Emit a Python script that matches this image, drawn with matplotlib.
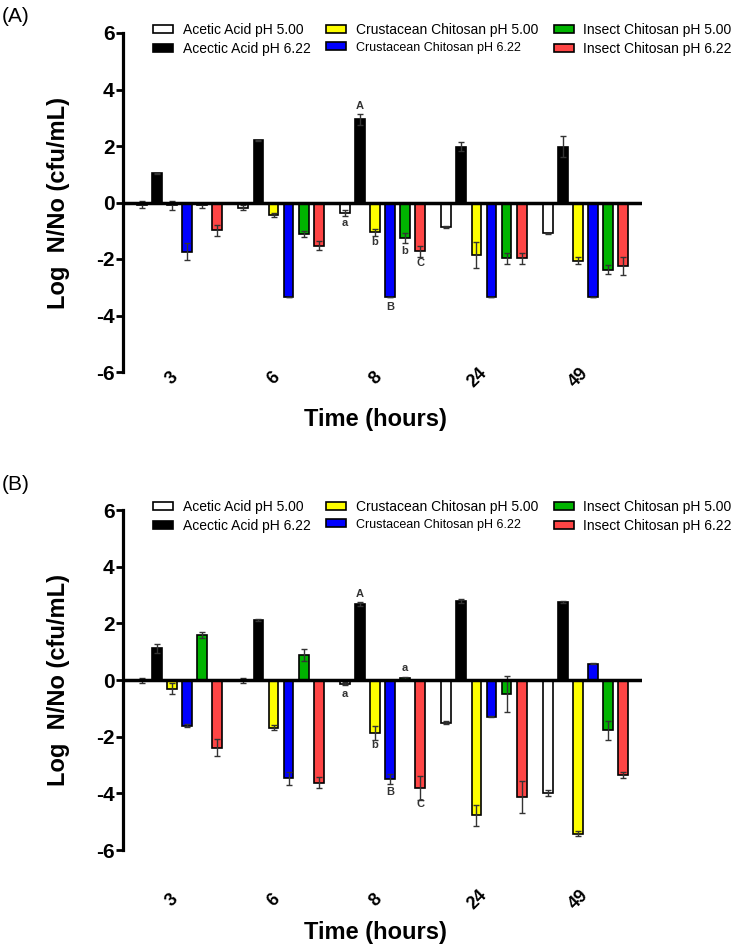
import matplotlib
matplotlib.use("Agg")
import matplotlib.pyplot as plt
import numpy as np

plt.rcParams['font.family'] = ['Liberation Sans', 'DejaVu Sans']
plt.rcParams['axes.unicode_minus'] = False

hours = ["3", "6", "8", "24", "49"]
series_names = ["Acetic Acid pH 5.00", "Acectic Acid pH 6.22",
                "Crustacean Chitosan pH 5.00", "Crustacean Chitosan pH 6.22",
                "Insect Chitosan pH 5.00", "Insect Chitosan pH 6.22"]
colors = ["white", "black", "#FFFF00", "#0000FF", "#00B400", "#FF4545"]

# panel A values (log N/No) and error bars
aa5_a = [-0.08, -0.18, -0.37, -0.88, -1.09]
aa5_a_err = [0.12, 0.10, 0.10, 0.04, 0.02]
aa6_a = [1.03, 2.20, 2.95, 1.98, 1.98]
aa6_a_err = [0.03, 0.02, 0.20, 0.16, 0.37]
cc5_a = [-0.10, -0.45, -1.06, -1.85, -2.06]
cc5_a_err = [0.15, 0.08, 0.12, 0.46, 0.12]
cc6_a = [-1.75, -3.33, -3.33, -3.33, -3.33]
cc6_a_err = [0.30, 0.0, 0.0, 0.0, 0.0]
ic5_a = [-0.10, -1.12, -1.26, -1.98, -2.38]
ic5_a_err = [0.08, 0.10, 0.18, 0.21, 0.15]
ic6_a = [-0.98, -1.53, -1.73, -1.98, -2.24]
ic6_a_err = [0.19, 0.15, 0.20, 0.18, 0.32]

# panel B values
aa5_b = [-0.02, -0.02, -0.13, -1.50, -3.98]
aa5_b_err = [0.10, 0.08, 0.06, 0.05, 0.10]
aa6_b = [1.12, 2.12, 2.69, 2.79, 2.76]
aa6_b_err = [0.16, 0.03, 0.07, 0.06, 0.03]
cc5_b = [-0.31, -1.68, -1.86, -4.78, -5.42]
cc5_b_err = [0.20, 0.10, 0.24, 0.38, 0.08]
cc6_b = [-1.62, -3.47, -3.50, -1.29, 0.58]
cc6_b_err = [0.05, 0.22, 0.17, 0.03, 0.03]
ic5_b = [1.58, 0.88, 0.08, -0.50, -1.78]
ic5_b_err = [0.10, 0.22, 0.03, 0.63, 0.33]
ic6_b = [-2.39, -3.62, -3.80, -4.13, -3.36]
ic6_b_err = [0.30, 0.18, 0.42, 0.55, 0.11]

# significance letters at 8 h: (series index, letter, y)
letters_a = [(0, "a", -0.74), (1, "A", 3.40), (2, "b", -1.40),
             (3, "B", -3.70), (4, "b", -1.72), (5, "C", -2.14)]
letters_b = [(0, "a", -0.50), (1, "A", 3.02), (2, "b", -2.30),
             (3, "B", -3.95), (4, "a", 0.41), (5, "C", -4.39)]

panel_a = [(aa5_a, aa5_a_err), (aa6_a, aa6_a_err), (cc5_a, cc5_a_err),
           (cc6_a, cc6_a_err), (ic5_a, ic5_a_err), (ic6_a, ic6_a_err)]
panel_b = [(aa5_b, aa5_b_err), (aa6_b, aa6_b_err), (cc5_b, cc5_b_err),
           (cc6_b, cc6_b_err), (ic5_b, ic5_b_err), (ic6_b, ic6_b_err)]

step = 0.148
width = 0.098

fig = plt.figure(figsize=(7.37, 9.48), dpi=100)
W, H = 737.0, 948.0


def draw_panel(ax, data, letters, tick_y):
    x = np.arange(len(hours))
    for i, (vals, errs) in enumerate(data):
        pos = x + (i - 2.5) * step
        ax.bar(pos, vals, width, color=colors[i], edgecolor="black",
               linewidth=1.2, label=series_names[i], zorder=2)
        ax.errorbar(pos, vals, yerr=errs, fmt="none", ecolor="#333333",
                    elinewidth=1.0, capsize=2.5, capthick=1.0, zorder=3)
    for i, txt, yv in letters:
        ax.text(2 + (i - 2.5) * step, yv, txt, ha="center", va="center",
                fontsize=8, fontweight="bold", color="#333333")
    ax.axhline(0, color="black", linewidth=2.5, zorder=4)
    ax.set_xlim(-0.557, 4.557)
    ax.set_ylim(-6, 6)
    ax.set_yticks(range(-6, 7, 2))
    ax.tick_params(axis="y", length=5, width=2, labelsize=15, pad=1)
    for lab in ax.get_yticklabels():
        lab.set_fontweight("bold")
    ax.set_xticks([])
    for s in ["top", "right", "bottom"]:
        ax.spines[s].set_visible(False)
    ax.spines["left"].set_linewidth(2.3)
    for k, h in enumerate(hours):
        ax.text(k - 0.07, tick_y, h, transform=ax.get_xaxis_transform(),
                rotation=45, ha="center", va="center", fontsize=13,
                fontweight="bold")
    leg = ax.legend(ncol=3, loc="upper left", bbox_to_anchor=(0.058, 1.03),
                    frameon=False, fontsize=10, borderaxespad=0, borderpad=0,
                    handlelength=1.45, handleheight=0.55, handletextpad=0.7,
                    columnspacing=1.1, labelspacing=0.35)
    leg.get_texts()[3].set_fontsize(9)


ax1 = fig.add_axes([123 / W, 1 - 372 / H, 519 / W, 339 / H])
draw_panel(ax1, panel_a, letters_a, -0.018)
ax2 = fig.add_axes([123 / W, 1 - 850 / H, 519 / W, 340 / H])
draw_panel(ax2, panel_b, letters_b, -0.147)

for yc in [203, 680]:
    fig.text(58 / W, 1 - yc / H, "Log  N/No (cfu/mL)", rotation=90,
             ha="center", va="center", fontsize=17, fontweight="bold")
fig.text(375 / W, 1 - 420 / H, "Time (hours)", ha="center", va="center",
         fontsize=17, fontweight="bold")
fig.text(375 / W, 1 - 932 / H, "Time (hours)", ha="center", va="center",
         fontsize=17, fontweight="bold")
fig.text(2 / W, 1 - 17 / H, "(A)", ha="left", va="center", fontsize=15)
fig.text(2 / W, 1 - 484 / H, "(B)", ha="left", va="center", fontsize=15)

fig.savefig("out.png", dpi=100)
